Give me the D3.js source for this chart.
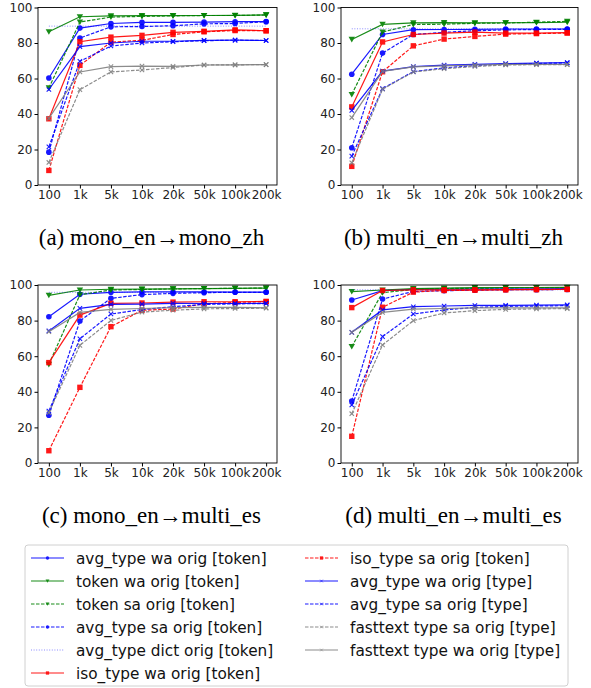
<!DOCTYPE html>
<html>
<head>
<meta charset="utf-8">
<title>alignment curves</title>
<script src="https://d3js.org/d3.v7.min.js"></script>
<style>
body { margin: 0; background: #fff; }
.tick text { font-family: "DejaVu Sans", sans-serif; font-size: 12px; fill: #222; }
.caption { font-family: "Liberation Serif", "Times New Roman", serif; font-size: 23px; fill: #000; }
.legend text { font-family: "DejaVu Sans", sans-serif; font-size: 15.3px; fill: #111; }
</style>
</head>
<body>
<script>
// x categories (training size)
var sizes = ["100", "1k", "5k", "10k", "20k", "50k", "100k", "200k"];

// legend order
var names = [
  "avg_type wa orig [token]",
  "token wa orig [token]",
  "token sa orig [token]",
  "avg_type sa orig [token]",
  "avg_type dict orig [token]",
  "iso_type wa orig [token]",
  "iso_type sa orig [token]",
  "avg_type wa orig [type]",
  "avg_type sa orig [type]",
  "fasttext type sa orig [type]",
  "fasttext type wa orig [type]"
];

// (a) mono_en -> mono_zh, one row per series, same order as names
var panelA = [
  [60.3, 88.4, 91.0, 91.6, 91.6, 91.8, 92.0, 92.1],
  [86.3, 94.8, 95.3, 95.4, 95.4, 95.5, 95.6, 95.8],
  [54.7, 91.8, 94.6, 95.0, 95.3, 95.5, 95.5, 95.8],
  [18.5, 82.8, 89.1, 89.3, 89.7, 90.8, 91.0, 92.0],
  [89.5, 89.5, 89.5, 89.5, 89.5, 89.5, 89.5, 89.5],
  [37.3, 80.7, 83.3, 84.3, 86.0, 86.6, 87.4, 86.9],
  [8.2, 67.4, 80.5, 81.5, 84.8, 86.3, 87.0, 86.9],
  [53.8, 78.0, 80.0, 81.0, 81.0, 81.5, 81.6, 81.4],
  [21.5, 69.7, 78.3, 80.0, 80.7, 81.3, 81.6, 81.4],
  [12.7, 53.7, 63.7, 64.8, 66.2, 67.6, 67.7, 67.8],
  [37.5, 63.7, 66.7, 67.0, 66.8, 67.6, 67.7, 67.8]
];

// (b) multi_en -> multi_zh
var panelB = [
  [62.4, 84.8, 87.5, 87.6, 87.7, 87.9, 87.9, 87.9],
  [82.0, 90.5, 91.3, 91.5, 91.3, 91.4, 91.5, 91.7],
  [51.0, 86.2, 90.4, 90.6, 91.1, 91.3, 91.7, 92.2],
  [21.0, 74.3, 84.8, 86.0, 86.9, 87.4, 87.6, 87.7],
  [88.0, 88.0, 88.0, 88.0, 88.0, 88.0, 88.0, 88.0],
  [44.0, 80.6, 84.8, 85.6, 86.1, 85.6, 85.6, 85.8],
  [10.5, 63.8, 78.4, 82.2, 83.7, 85.0, 85.3, 85.6],
  [42.0, 64.2, 66.7, 67.5, 68.0, 68.4, 68.7, 68.9],
  [16.3, 54.3, 63.9, 66.0, 67.3, 68.1, 68.5, 68.8],
  [12.5, 54.0, 63.7, 65.5, 66.8, 67.6, 67.8, 67.8],
  [38.0, 64.0, 66.5, 67.1, 67.6, 68.0, 68.0, 67.9]
];

// (c) mono_en -> multi_es
var panelC = [
  [82.2, 94.8, 95.9, 96.1, 96.1, 96.1, 96.0, 96.0],
  [94.2, 97.2, 97.6, 97.7, 97.8, 98.0, 98.1, 98.3],
  [55.4, 94.5, 97.2, 97.5, 97.8, 98.0, 98.1, 98.3],
  [26.8, 79.8, 92.5, 94.6, 95.3, 95.7, 95.9, 95.9],
  [95.9, 95.9, 95.9, 95.9, 95.9, 95.9, 95.9, 95.9],
  [56.4, 83.1, 89.7, 89.9, 90.4, 90.6, 90.6, 90.8],
  [6.9, 42.5, 76.6, 85.8, 86.5, 89.5, 90.2, 90.6],
  [74.2, 86.9, 89.1, 89.3, 89.7, 89.6, 89.6, 89.7],
  [29.2, 69.8, 83.7, 86.2, 87.8, 89.1, 89.4, 89.6],
  [28.3, 66.1, 80.1, 84.8, 85.8, 86.6, 86.8, 87.0],
  [73.8, 84.6, 86.3, 86.8, 87.3, 87.4, 87.4, 87.2]
];

// (d) multi_en -> multi_es
var panelD = [
  [91.6, 96.8, 97.5, 97.7, 97.8, 97.9, 97.9, 98.0],
  [96.3, 97.2, 98.0, 98.3, 98.5, 98.6, 98.6, 98.7],
  [65.4, 95.7, 97.5, 98.0, 98.2, 98.4, 98.5, 98.6],
  [34.8, 92.1, 96.4, 96.8, 97.1, 97.3, 97.4, 97.5],
  [97.3, 97.3, 97.3, 97.3, 97.3, 97.3, 97.3, 97.3],
  [87.3, 96.9, 97.3, 97.3, 97.3, 97.4, 97.5, 97.6],
  [15.0, 87.5, 96.0, 96.9, 97.1, 97.3, 97.4, 97.5],
  [73.4, 86.0, 87.8, 88.2, 88.5, 88.6, 88.7, 88.8],
  [32.6, 71.0, 83.7, 86.0, 87.4, 88.0, 88.2, 88.4],
  [27.7, 66.3, 80.0, 84.3, 85.6, 86.3, 86.6, 86.7],
  [73.4, 84.6, 86.5, 86.8, 87.2, 87.2, 87.1, 87.1]
];

var captions = [
  "(a) mono_en\u2192mono_zh",
  "(b) multi_en\u2192multi_zh",
  "(c) mono_en\u2192multi_es",
  "(d) multi_en\u2192multi_es"
];

var yTicks = [0, 20, 40, 60, 80, 100];

// look of each series (same order as names)
var styles = [
  {c: "#0000ff", dash: null,      m: "circle"},
  {c: "#008000", dash: null,      m: "tri"},
  {c: "#008000", dash: "3.5,1.5", m: "tri"},
  {c: "#0000ff", dash: "3.5,1.5", m: "circle"},
  {c: "#0000ff", dash: "1,1.6",   m: null, op: 0.45},
  {c: "#ff0000", dash: null,      m: "square"},
  {c: "#ff0000", dash: "3.5,1.5", m: "square"},
  {c: "#0000ff", dash: null,      m: "x"},
  {c: "#0000ff", dash: "3.5,1.5", m: "x"},
  {c: "#808080", dash: "3.5,1.5", m: "x"},
  {c: "#808080", dash: null,      m: "x"}
];

// panel boxes
var boxes = [
  {l: 38,  r: 277, t: 7.5, b: 185},
  {l: 341, r: 578, t: 7.5, b: 185},
  {l: 38,  r: 277, t: 285, b: 463},
  {l: 341, r: 578, t: 285, b: 463}
];
var panels = [panelA, panelB, panelC, panelD];

var svg = d3.select("body").append("svg")
    .attr("width", 591)
    .attr("height", 688);

function drawMarker(g, kind, color, x, y, scale) {
  scale = scale || 1;
  if (kind == "circle") {
    g.append("circle").attr("cx", x).attr("cy", y).attr("r", 2.8 * scale)
      .attr("fill", color);
  } else if (kind == "square") {
    var s = 5.4 * scale;
    g.append("rect").attr("x", x - s / 2).attr("y", y - s / 2)
      .attr("width", s).attr("height", s).attr("fill", color);
  } else if (kind == "tri") {
    g.append("path")
      .attr("transform", "translate(" + x + "," + y + ") scale(" + scale + ")")
      .attr("d", "M-3.2,-2.6L3.2,-2.6L0,3Z").attr("fill", color);
  } else if (kind == "x") {
    g.append("path")
      .attr("transform", "translate(" + x + "," + y + ") scale(" + scale + ")")
      .attr("d", "M-2.2,-2.2L2.2,2.2M-2.2,2.2L2.2,-2.2")
      .attr("stroke", color).attr("stroke-width", 1.1).attr("fill", "none");
  }
}

panels.forEach(function(data, p) {
  var bx = boxes[p];
  var g = svg.append("g");

  var x = d3.scaleLinear().domain([-0.35, sizes.length - 1 + 0.35]).range([bx.l, bx.r]);
  var y = d3.scaleLinear().domain([0, 100]).range([bx.b, bx.t]);

  // axes
  g.append("g")
    .attr("transform", "translate(0," + bx.b + ")")
    .call(d3.axisBottom(x).tickValues(d3.range(sizes.length))
      .tickFormat(function(i) { return sizes[i]; }).tickSize(3.5).tickPadding(2))
    .call(function(a) { a.select(".domain").remove(); });
  g.append("g")
    .attr("transform", "translate(" + bx.l + ",0)")
    .call(d3.axisLeft(y).tickValues(yTicks).tickSize(3.5).tickPadding(2))
    .call(function(a) { a.select(".domain").remove(); });

  var line = d3.line()
    .x(function(d, i) { return x(i); })
    .y(function(d) { return y(d); });

  data.forEach(function(vals, s) {
    var st = styles[s];
    var sg = g.append("g").attr("opacity", st.op || 0.9);
    sg.append("path")
      .datum(vals)
      .attr("d", line)
      .attr("fill", "none")
      .attr("stroke", st.c)
      .attr("stroke-width", st.op ? 1 : 1.2)
      .attr("stroke-dasharray", st.dash);
    if (st.m) {
      vals.forEach(function(v, i) { drawMarker(sg, st.m, st.c, x(i), y(v)); });
    }
  });

  // frame
  g.append("rect")
    .attr("x", bx.l).attr("y", bx.t)
    .attr("width", bx.r - bx.l).attr("height", bx.b - bx.t)
    .attr("fill", "none").attr("stroke", "#000").attr("stroke-width", 0.9);

  svg.append("text")
    .attr("class", "caption")
    .attr("x", (bx.l + bx.r) / 2 - 6)
    .attr("y", bx.b + 60)
    .attr("text-anchor", "middle")
    .text(captions[p]);
});

// legend
var leg = svg.append("g").attr("class", "legend");
leg.append("rect")
  .attr("x", 25).attr("y", 545).attr("width", 543).attr("height", 141)
  .attr("rx", 3).attr("fill", "#fff").attr("stroke", "#d0d0d0");

names.forEach(function(n, i) {
  var col = i < 6 ? 0 : 1;
  var row = col ? i - 6 : i;
  var x0 = col ? 305 : 31, x1 = col ? 338 : 64, tx = col ? 350 : 76;
  var cy = 558 + row * 23;
  var st = styles[i];
  var lg = leg.append("g").attr("opacity", st.op || 0.9);
  lg.append("line")
    .attr("x1", x0).attr("x2", x1).attr("y1", cy).attr("y2", cy)
    .attr("stroke", st.c).attr("stroke-width", st.op ? 1 : 1.2)
    .attr("stroke-dasharray", st.dash);
  if (st.m) drawMarker(lg, st.m, st.c, (x0 + x1) / 2, cy, 0.6);
  leg.append("text").attr("x", tx).attr("y", cy).attr("dy", "0.36em").text(n);
});
</script>
</body>
</html>
